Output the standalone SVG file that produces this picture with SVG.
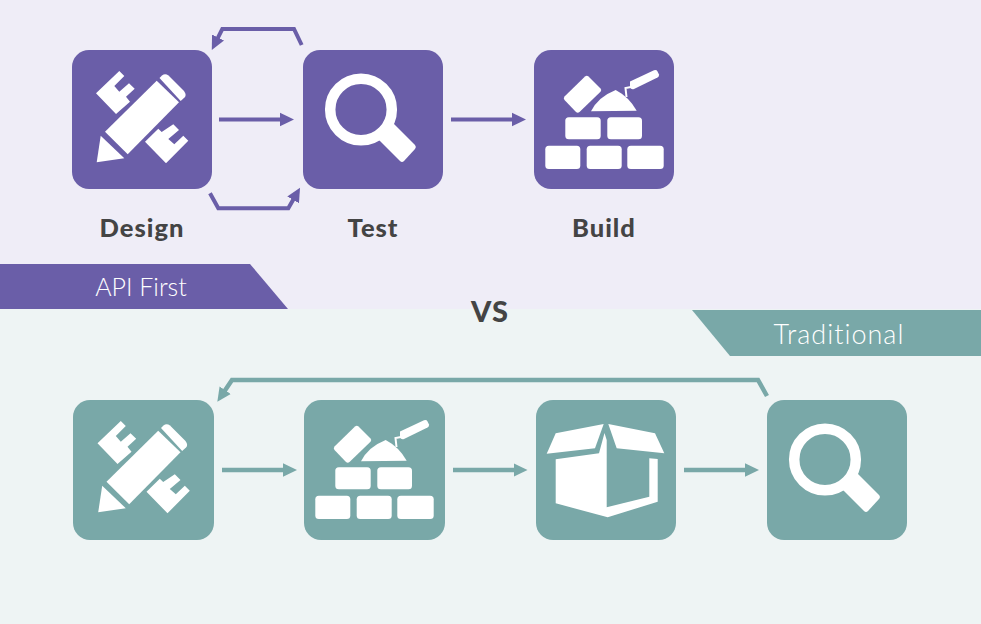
<svg xmlns="http://www.w3.org/2000/svg" width="981" height="624" viewBox="0 0 981 624">
<style>
.lbl{font-family:"Lato","Open Sans",sans-serif;font-weight:900;font-size:25.500px;fill:#444;text-anchor:middle;letter-spacing:1px}
.tag{font-family:"Lato","Open Sans",sans-serif;font-weight:300;fill:#fff;text-anchor:middle}
.p{fill:#6A5EA8}.t{fill:#79A8A8}
.i{fill:#fff}
.ps{fill:none;stroke:#6A5EA8;stroke-width:4}
.ts{fill:none;stroke:#79A8A8;stroke-width:4.500}
</style>
<defs>
<g id="ic-design" class="i">
<polygon points="105,131.7 156.7,80.7 179,102.3 127.7,154.3"/>
<path d="M159.5,78 L162,75.5 Q165,73 168.500,75.500 L184,91 Q187,95 184.500,97.500 L180.700,101 Z"/>
<polygon points="100.700,135.700 124.300,158.300 96.700,162.300"/>
<polygon points="96,93.300 119.300,71 124.300,76 114.300,86 119.300,91.700 129,83.300 134.700,88.700 126,96.700 130,101.700 116,114"/>
<polygon points="145,141.700 158.300,128.700 161.700,132 173.300,124.300 179,130 168.300,139 174.300,144.300 183.300,135.700 188.300,140.700 166,163.300"/>
</g>
<g id="ic-test">
<circle cx="361" cy="109.500" r="30.800" fill="none" stroke="#fff" stroke-width="10.500"/>
<path d="M390,120 L415,145 Q416.800,147 415,149 L404,161 Q402,163 400,161 L374,135 Z" fill="#fff"/>
</g>
<g id="ic-build" class="i">
<rect x="565.300" y="117.300" width="35.400" height="22" rx="3.500"/>
<rect x="607.300" y="117.300" width="34.700" height="22" rx="3.500"/>
<rect x="545.300" y="145.700" width="35" height="23.300" rx="3.500"/>
<rect x="586.700" y="145.700" width="35" height="23.300" rx="3.500"/>
<rect x="627.300" y="145.700" width="36.400" height="23.300" rx="3.500"/>
<path d="M585,76.500 Q586.700,75 588.500,76.500 L600.500,88.500 Q602,90 600.500,91.800 L579.500,112 Q577.700,113.500 576,112 L564.500,100 Q563,98.300 564.500,96.500 Z"/>
<path d="M591,111.300 Q598,97 615.700,90 Q629,97 636.700,110.700 Z"/>
<path d="M630,81.500 L654,70.300 Q656.500,69.500 657.500,71.500 L659,74.500 Q659.500,76.500 657.500,77.500 L634,89 Q631,90 630,87 Z"/>
<path d="M631,87 L625.500,88 L626.500,97" fill="none" stroke="#fff" stroke-width="2"/>
</g>
<g id="ic-box" class="i">
<polygon points="546.700,453.700 555.700,433.300 603.700,424 595,448.300"/>
<polygon points="608.300,424 655,433.300 664.300,453.300 616.700,448.300"/>
<polygon points="555.700,459.300 599,453.300 604.500,433 606.700,440 606.700,507.300 649.300,496.700 649.300,458.300 657.700,459 657.700,501.700 607.700,517.300 555.700,503.300"/>
</g>
<marker id="hp" markerUnits="userSpaceOnUse" markerWidth="16" markerHeight="15" refX="1" refY="7.500" orient="auto"><path d="M0,0.800 L14,7.500 L0,14.200 Z" fill="#6A5EA8"/></marker>
<marker id="ht" markerUnits="userSpaceOnUse" markerWidth="16" markerHeight="15" refX="1" refY="7.500" orient="auto"><path d="M0,0.800 L14,7.500 L0,14.200 Z" fill="#79A8A8"/></marker>
</defs>
<rect width="981" height="309" fill="#EFEDF7"/>
<rect y="309" width="981" height="315" fill="#EEF4F4"/>
<g id="banner-api"><polygon class="p" points="0,264 250,264 288,309 0,309"/><text class="tag" x="141" y="296" font-size="25">API First</text></g>
<g id="banner-traditional"><polygon class="t" points="692,310 981,310 981,356 730,356"/><text class="tag" x="839" y="343.500" font-size="27" letter-spacing="1">Traditional</text></g>
<g id="vs"><text x="490" y="321.500" font-family="Lato,'Open Sans',sans-serif" font-weight="900" font-size="29" letter-spacing="1" fill="#444" text-anchor="middle">VS</text></g>
<g id="connectors">
<path class="ps" d="M219,119.500 H281" marker-end="url(#hp)"/>
<path class="ps" d="M451,119.500 H513" marker-end="url(#hp)"/>
<path class="ps" d="M301.700,45 L294,29 H222.300 L217.600,38.400" marker-end="url(#hp)"/>
<path class="ps" d="M210,193.300 L218.300,208.300 H288.300 L293.600,199" marker-end="url(#hp)"/>
<path class="ts" d="M222,470 H284" marker-end="url(#ht)"/>
<path class="ts" d="M453,470 H514.500" marker-end="url(#ht)"/>
<path class="ts" d="M684,470 H746" marker-end="url(#ht)"/>
<path class="ts" d="M767,396 L758,380 H232 L224.600,391" marker-end="url(#ht)"/>
</g>
<g id="a-design"><rect class="p" x="72" y="50" width="140" height="139" rx="17"/><use href="#ic-design"/><text class="lbl" x="142" y="237">Design</text></g>
<g id="a-test"><rect class="p" x="303" y="50" width="140" height="139" rx="17"/><use href="#ic-test"/><text class="lbl" x="373" y="237">Test</text></g>
<g id="a-build"><rect class="p" x="534" y="50" width="140" height="139" rx="17"/><use href="#ic-build"/><text class="lbl" x="604" y="237">Build</text></g>
<g id="t-design"><rect class="t" x="73" y="400" width="141" height="140" rx="17"/><use href="#ic-design" x="1.500" y="350"/></g>
<g id="t-build"><rect class="t" x="304" y="400" width="141" height="140" rx="17"/><use href="#ic-build" x="-230" y="350"/></g>
<g id="t-deploy"><rect class="t" x="536" y="400" width="140" height="140" rx="17"/><use href="#ic-box"/></g>
<g id="t-test"><rect class="t" x="767" y="400" width="140" height="140" rx="17"/><use href="#ic-test" x="464" y="350"/></g>
</svg>
